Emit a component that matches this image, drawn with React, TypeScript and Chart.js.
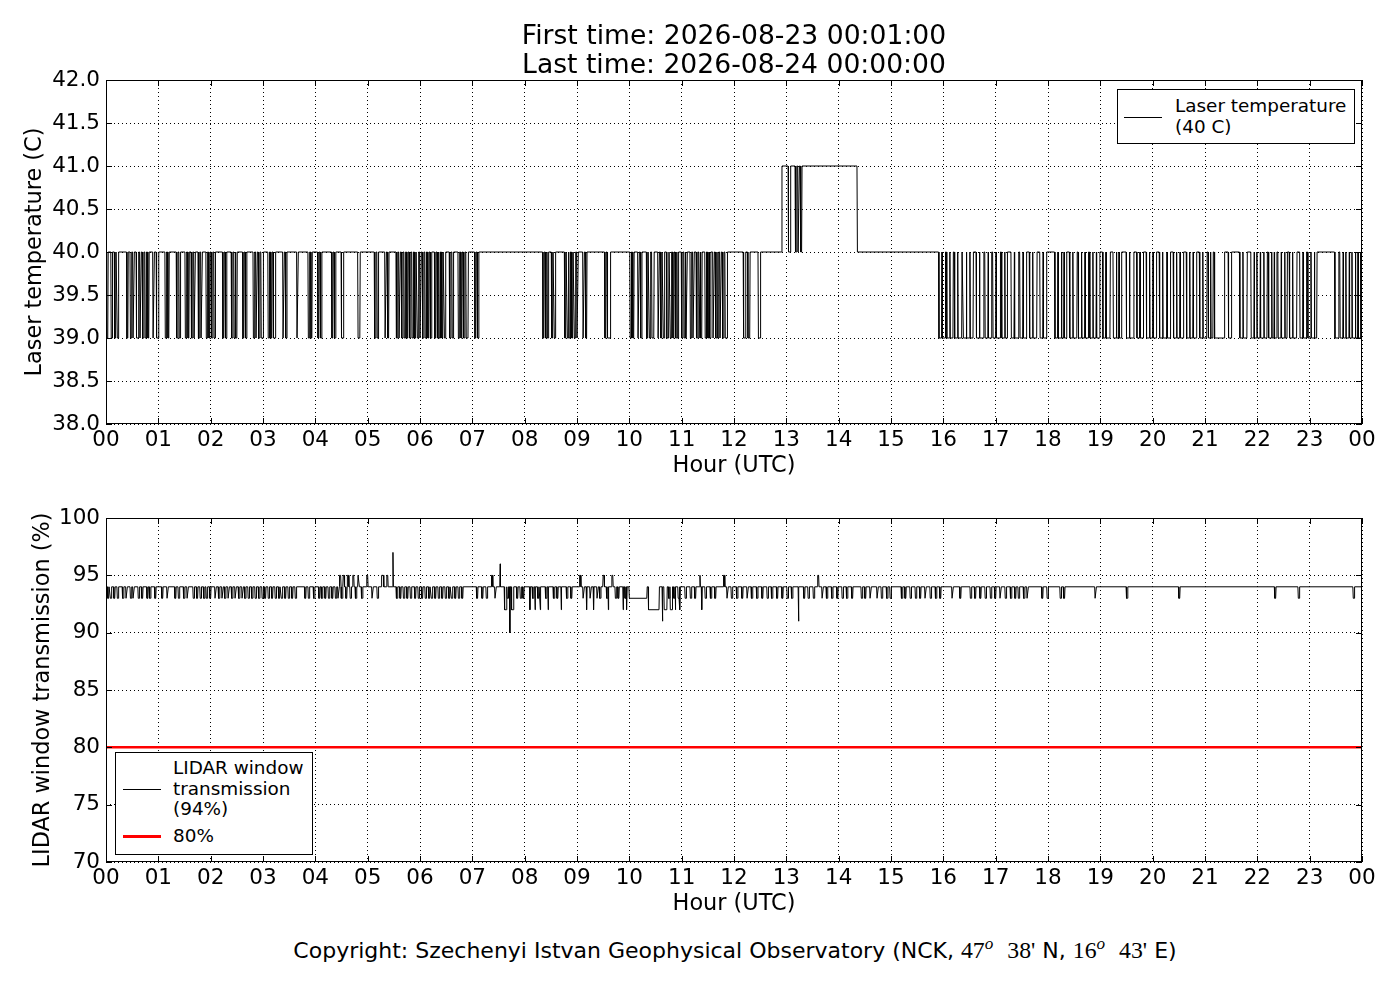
import React from "react";
import { Chart, ChartConfiguration, Plugin, registerables } from "chart.js";

Chart.register(...registerables);

const FONT = '"DejaVu Sans", sans-serif';

const firstTime = "2026-08-23 00:01:00";
const lastTime = "2026-08-24 00:00:00";

// x positions are minutes after 00:00 UTC
const hourLabels = [
  "00", "01", "02", "03", "04", "05", "06", "07", "08", "09", "10", "11", "12",
  "13", "14", "15", "16", "17", "18", "19", "20", "21", "22", "23", "00",
];

const laserTicks = [38.0, 38.5, 39.0, 39.5, 40.0, 40.5, 41.0, 41.5, 42.0];
const windowTicks = [70, 75, 80, 85, 90, 95, 100];

// laser temperature sits at 40 C, drops to 39 C in these [start, end] minute spans
const laserBase = 40;
const laserLow = 39;
const laserHigh = 41;
const laserLowDips: [number, number][] = [
  [1, 2], [6, 7], [10, 11], [13, 14], [24, 25], [28, 29], [31, 32], [35, 37], [39, 40], [42, 43],
  [45, 46], [48, 49], [54, 55], [58, 60], [68, 69], [71, 72], [81, 82], [84, 85], [91, 92], [94, 95],
  [98, 99], [101, 102], [106, 107], [109, 110], [115, 116], [118, 119], [121, 122], [124, 125],
  [134, 135], [137, 138], [144, 145], [147, 148], [149, 150], [157, 158], [160, 161], [169, 170],
  [172, 173], [175, 176], [178, 180], [186, 187], [189, 190], [192, 194], [203, 204], [206, 207],
  [219, 220], [232, 233], [235, 236], [243, 244], [246, 247], [259, 260], [262, 263], [270, 272],
  [289, 291], [308, 309], [311, 312], [320, 321], [323, 324], [333, 334], [336, 337], [339, 340],
  [342, 343], [345, 346], [348, 349], [351, 352], [354, 355], [357, 358], [360, 361], [363, 364],
  [366, 367], [369, 370], [372, 373], [377, 378], [380, 381], [382, 383], [385, 386], [388, 389],
  [394, 395], [397, 398], [404, 405], [407, 408], [410, 411], [413, 415], [423, 424], [426, 427],
  [501, 502], [504, 505], [506, 507], [511, 512], [514, 515], [526, 527], [529, 530], [531, 532],
  [534, 535], [537, 538], [540, 541], [547, 548], [550, 551], [572, 573], [575, 578], [601, 602],
  [604, 605], [610, 611], [613, 614], [620, 621], [623, 624], [626, 628], [633, 634], [636, 637],
  [639, 640], [643, 645], [647, 648], [650, 651], [653, 654], [655, 656], [660, 661], [663, 664],
  [665, 666], [670, 671], [673, 674], [677, 678], [680, 681], [682, 683], [687, 688], [690, 691],
  [692, 693], [696, 697], [699, 700], [701, 702], [704, 705], [707, 708], [710, 712], [731, 733],
  [736, 738], [748, 750],
  [955, 958], [959, 962], [964, 967], [968, 971], [973, 976], [977, 981], [983, 986], [987, 990],
  [991, 994], [998, 1001], [1002, 1006], [1008, 1011], [1012, 1015], [1017, 1020], [1021, 1025],
  [1027, 1030], [1031, 1033], [1038, 1041], [1042, 1046], [1048, 1051], [1052, 1055], [1059, 1062],
  [1063, 1067], [1071, 1074], [1075, 1078], [1088, 1091], [1092, 1095], [1096, 1098], [1099, 1101],
  [1105, 1108], [1109, 1113], [1115, 1118], [1119, 1122], [1123, 1126], [1128, 1131], [1132, 1135],
  [1136, 1139], [1143, 1146], [1147, 1151], [1155, 1158], [1159, 1161], [1162, 1164], [1170, 1173],
  [1174, 1178], [1182, 1185], [1186, 1189], [1193, 1196], [1197, 1200], [1201, 1204], [1208, 1211],
  [1212, 1216], [1217, 1220], [1224, 1227], [1228, 1231], [1232, 1235], [1239, 1242], [1243, 1246],
  [1247, 1250], [1254, 1257], [1258, 1262], [1264, 1266], [1267, 1269], [1271, 1282], [1287, 1290],
  [1300, 1303], [1304, 1308], [1313, 1316], [1317, 1319], [1320, 1323], [1324, 1327], [1328, 1331],
  [1333, 1336], [1337, 1339], [1340, 1342], [1344, 1347], [1348, 1351], [1352, 1354], [1357, 1360],
  [1361, 1365], [1369, 1372], [1373, 1376], [1378, 1381], [1382, 1385], [1386, 1388], [1409, 1413],
  [1415, 1418], [1419, 1421], [1422, 1425], [1426, 1428], [1429, 1432], [1433, 1435], [1436, 1438],
  [1439, 1440],
];
// spans at 41 C around 13:00-14:20
const laserHighRuns: [number, number][] = [
  [775, 782], [785, 790], [792, 793], [795, 796], [798, 861],
];

// LIDAR window transmission sits at 94 %
const windowBase = 94;
const windowDips93 = [
  2, 5, 9, 13, 19, 23, 28, 31, 37, 41, 47, 50, 56, 64, 70, 79, 83, 89, 93, 100, 104, 108, 112, 115,
  119, 125, 129, 133, 136, 140, 144, 148, 152, 156, 159, 163, 167, 171, 175, 179, 182, 186, 190, 194,
  198, 201, 205, 209, 213, 217, 228, 232, 238, 244, 247, 251, 255, 259, 263, 266, 270, 275, 280, 286,
  293, 305, 311, 333, 337, 341, 345, 349, 354, 358, 362, 366, 370, 373, 377, 381, 385, 389, 393, 396,
  400, 404, 408, 425, 431, 436, 446, 460, 471, 475, 478, 489, 495, 504, 513, 517, 528, 533, 547, 555,
  563, 566, 574, 584, 587, 595, 645, 651, 656, 664, 670, 675, 687, 693, 698, 712, 717, 723, 729, 735,
  740, 746, 752, 758, 763, 769, 775, 781, 786, 800, 805, 811, 821, 826, 832, 838, 844, 849, 855, 866,
  870, 876, 884, 889, 895, 899, 912, 916, 922, 928, 933, 939, 945, 951, 956, 970, 979, 991, 996, 1002,
  1008, 1014, 1019, 1025, 1031, 1037, 1042, 1046, 1052, 1056, 1073, 1079, 1094, 1098, 1134, 1170,
  1230, 1340, 1367, 1430,
];
// other excursions: [start, end, value]
const windowExcursions: [number, number, number][] = [
  [268, 269, 95], [272, 273, 95], [277, 278, 95], [283, 284, 95], [289, 290, 95], [299, 300, 95],
  [316, 318, 95], [322, 323, 95], [329, 329, 97], [442, 443, 95], [452, 452, 96], [457, 459, 92],
  [463, 463, 90], [465, 467, 92], [486, 486, 92], [492, 492, 92], [498, 498, 92], [507, 507, 92],
  [522, 522, 92], [543, 544, 95], [551, 551, 92], [559, 559, 92], [570, 571, 95], [576, 576, 92],
  [580, 581, 95], [593, 593, 92], [597, 597, 92], [600, 620, 93], [622, 634, 92], [638, 638, 91],
  [640, 643, 92], [647, 649, 92], [653, 653, 92], [658, 658, 92], [681, 681, 95], [683, 683, 92],
  [708, 709, 95], [794, 794, 91], [816, 817, 95],
];
const thresholdPercent = 80;

type Step = [number, number, number];

function buildSeries(base: number, steps: Step[]) {
  const sorted = [...steps].sort((a, b) => a[0] - b[0]);
  const points: { x: number; y: number }[] = [{ x: 0, y: base }];
  for (const [start, end, value] of sorted) {
    points.push(
      { x: start - 0.5, y: base },
      { x: start, y: value },
      { x: end, y: value },
      { x: end + 0.5, y: base }
    );
  }
  if (points[points.length - 1].x < 1440) points.push({ x: 1440, y: base });
  return points;
}

const laserPoints = buildSeries(laserBase, [
  ...laserLowDips.map(([s, e]): Step => [s, e, laserLow]),
  ...laserHighRuns.map(([s, e]): Step => [s, e, laserHigh]),
]);

const windowPoints = buildSeries(windowBase, [
  ...windowDips93.map((m): Step => [m, m + 1, 93]),
  ...windowExcursions,
]);

// matplotlib-like frame with inward ticks on all four sides
const axesFrame: Plugin<"line"> = {
  id: "axesFrame",
  afterDatasetsDraw(chart) {
    const { ctx, chartArea } = chart;
    const { left, right, top, bottom } = chartArea;
    const xs = chart.scales.x;
    const ys = chart.scales.y;
    ctx.save();
    ctx.strokeStyle = "#000";
    ctx.lineWidth = 1;
    ctx.beginPath();
    xs.ticks.forEach((t) => {
      const px = Math.round(xs.getPixelForValue(t.value)) + 0.5;
      ctx.moveTo(px, bottom);
      ctx.lineTo(px, bottom - 6);
      ctx.moveTo(px, top);
      ctx.lineTo(px, top + 6);
    });
    ys.ticks.forEach((t) => {
      const py = Math.round(ys.getPixelForValue(t.value)) + 0.5;
      ctx.moveTo(left, py);
      ctx.lineTo(left + 6, py);
      ctx.moveTo(right, py);
      ctx.lineTo(right - 6, py);
    });
    ctx.stroke();
    ctx.strokeRect(left + 0.5, top + 0.5, right - left - 1, bottom - top - 1);
    ctx.restore();
  },
};

type ConfigDataset = ChartConfiguration<"line">["data"]["datasets"][number];

interface PanelProps {
  top: number;
  padTop: number;
  axisHeight: number;
  datasets: ConfigDataset[];
  yTicks: number[];
  yFormat: (v: number) => string;
  yTitle: string;
  yTitlePad: number;
}

const Panel: React.FC<PanelProps> = ({
  top,
  padTop,
  axisHeight,
  datasets,
  yTicks,
  yFormat,
  yTitle,
  yTitlePad,
}) => {
  const canvasRef = React.useRef<HTMLCanvasElement | null>(null);
  const height = padTop + 344 + axisHeight;

  React.useEffect(() => {
    const canvas = canvasRef.current;
    if (!canvas) return;

    const tickFont = { family: FONT, size: 21.5 };
    const titleFont = { family: FONT, size: 22.4 };

    const config: ChartConfiguration<"line"> = {
      type: "line",
      data: { datasets },
      options: {
        animation: false,
        responsive: false,
        events: [],
        layout: { padding: { left: 0, right: 38, top: padTop, bottom: 0 } },
        plugins: {
          legend: { display: false },
          tooltip: { enabled: false },
        },
        scales: {
          x: {
            type: "linear",
            min: 0,
            max: 1440,
            afterBuildTicks: (scale) => {
              scale.ticks = hourLabels.map((_, i) => ({ value: i * 60 }));
            },
            afterFit: (scale) => {
              scale.height = axisHeight;
            },
            ticks: {
              autoSkip: false,
              maxRotation: 0,
              padding: 4,
              color: "#000",
              font: tickFont,
              callback: (_v, i) => hourLabels[i],
            },
            grid: { color: "#000", lineWidth: 1, drawTicks: false },
            border: { display: false, dash: [1, 3] },
            title: {
              display: true,
              text: "Hour (UTC)",
              color: "#000",
              font: titleFont,
              padding: { top: 0, bottom: 0 },
            },
          },
          y: {
            type: "linear",
            min: yTicks[0],
            max: yTicks[yTicks.length - 1],
            afterBuildTicks: (scale) => {
              scale.ticks = yTicks.map((v) => ({ value: v }));
            },
            afterFit: (scale) => {
              scale.width = 106;
            },
            ticks: {
              padding: 6,
              color: "#000",
              font: tickFont,
              callback: (v) => yFormat(Number(v)),
            },
            grid: { color: "#000", lineWidth: 1, drawTicks: false },
            border: { display: false, dash: [1, 3] },
            title: {
              display: true,
              text: yTitle,
              color: "#000",
              font: titleFont,
              padding: { top: yTitlePad, bottom: 0 },
            },
          },
        },
      },
      plugins: [axesFrame],
    };

    const chart = new Chart(canvas, config);
    return () => {
      chart.destroy();
    };
  }, []);

  return (
    <canvas
      ref={canvasRef}
      width={1400}
      height={height}
      style={{ position: "absolute", left: 0, top, display: "block" }}
    />
  );
};

const laserDatasets: ConfigDataset[] = [
  {
    data: laserPoints,
    borderColor: "#000",
    borderWidth: 1,
    pointRadius: 0,
    tension: 0,
  },
];

const windowDatasets: ConfigDataset[] = [
  {
    data: windowPoints,
    borderColor: "#000",
    borderWidth: 1,
    pointRadius: 0,
    tension: 0,
  },
  {
    data: [
      { x: 0, y: thresholdPercent },
      { x: 1440, y: thresholdPercent },
    ],
    borderColor: "#ff0000",
    borderWidth: 2.5,
    pointRadius: 0,
  },
];

const legendBox: React.CSSProperties = {
  position: "absolute",
  boxSizing: "border-box",
  border: "1px solid #000",
  background: "#fff",
  fontSize: 18.4,
  lineHeight: "20.5px",
};

const math: React.CSSProperties = { fontFamily: '"Liberation Serif", serif', fontSize: "1.08em" };
const sup: React.CSSProperties = {
  fontFamily: '"Liberation Serif", serif',
  fontStyle: "italic",
  fontSize: "0.78em",
  position: "relative",
  top: "-0.5em",
};

export default function App() {
  React.useEffect(() => {
    document.body.style.margin = "0";
  }, []);

  return (
    <div
      style={{
        position: "relative",
        width: 1400,
        height: 1000,
        background: "#fff",
        fontFamily: FONT,
        color: "#000",
        overflow: "hidden",
      }}
    >
      <Panel
        top={0}
        padTop={80}
        axisHeight={56}
        datasets={laserDatasets}
        yTicks={laserTicks}
        yFormat={(v) => v.toFixed(1)}
        yTitle="Laser temperature (C)"
        yTitlePad={22}
      />
      <Panel
        top={490}
        padTop={28}
        axisHeight={56}
        datasets={windowDatasets}
        yTicks={windowTicks}
        yFormat={(v) => String(Math.round(v))}
        yTitle="LIDAR window transmission (%)"
        yTitlePad={30}
      />

      <div
        style={{
          position: "absolute",
          left: 0,
          width: 1468,
          top: 20,
          textAlign: "center",
          fontSize: 26.6,
          lineHeight: "29px",
        }}
      >
        First time: {firstTime}
        <br />
        Last time: {lastTime}
      </div>

      <div style={{ ...legendBox, left: 1117, top: 89, width: 238, height: 55 }}>
        <div style={{ position: "absolute", left: 6, top: 27, width: 38, height: 1, background: "#000" }} />
        <div style={{ position: "absolute", left: 57, top: 6, whiteSpace: "nowrap" }}>
          Laser temperature
          <br />
          (40 C)
        </div>
      </div>

      <div style={{ ...legendBox, left: 115, top: 752, width: 198, height: 103 }}>
        <div style={{ position: "absolute", left: 7, top: 36, width: 38, height: 1, background: "#000" }} />
        <div style={{ position: "absolute", left: 57, top: 5, whiteSpace: "nowrap" }}>
          LIDAR window
          <br />
          transmission
          <br />
          (94%)
        </div>
        <div style={{ position: "absolute", left: 7, top: 82, width: 38, height: 3, background: "#ff0000" }} />
        <div style={{ position: "absolute", left: 57, top: 73, whiteSpace: "nowrap" }}>80%</div>
      </div>

      <div
        style={{
          position: "absolute",
          left: 0,
          width: 1470,
          top: 936,
          textAlign: "center",
          fontSize: 22,
          lineHeight: "28px",
          whiteSpace: "nowrap",
        }}
      >
        Copyright: Szechenyi Istvan Geophysical Observatory (NCK,{" "}
        <span style={math}>47</span>
        <span style={sup}>o</span>
        {"\u00a0\u00a0"}
        <span style={math}>38'</span> N, <span style={math}>16</span>
        <span style={sup}>o</span>
        {"\u00a0\u00a0"}
        <span style={math}>43'</span> E)
      </div>
    </div>
  );
}
